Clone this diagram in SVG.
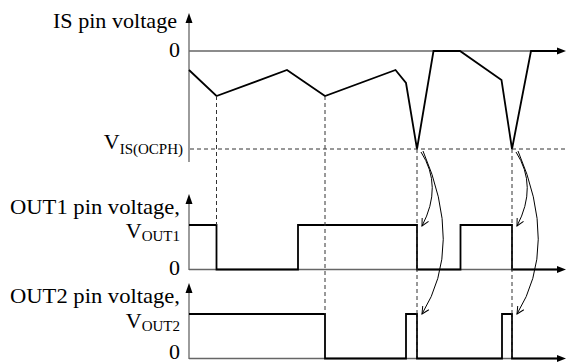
<svg xmlns="http://www.w3.org/2000/svg" width="566" height="363" viewBox="0 0 566 363">
  <defs>
    <style>
      .lbl { font-size: 22px; fill: #000; }
      .sub { font-size: 15px; }
      .axis { stroke: #666; stroke-width: 1.3; fill: none; }
      .wave { stroke: #000; stroke-width: 1.8; fill: none; stroke-linejoin: miter; }
      .dash { stroke: #333; stroke-width: 1; stroke-dasharray: 4 3; fill: none; }
      .curve { stroke: #000; stroke-width: 1; fill: none; }
      .head { fill: #000; stroke: none; }
    </style>
    <marker id="open" viewBox="0 0 10 10" refX="9" refY="5" markerWidth="9" markerHeight="9" orient="auto" markerUnits="userSpaceOnUse">
      <path d="M1,1 L9,5 L1,9" fill="none" stroke="#000" stroke-width="1.1"/>
    </marker>
  </defs>
  <rect width="566" height="363" fill="#fff"/>

  <g id="is-panel">
    <line class="axis" x1="189" y1="22" x2="189" y2="162"/>
    <line class="axis" x1="189" y1="51" x2="558" y2="51"/>
    <polygon class="head" points="189,13 185.5,23 192.5,23"/>
    <polygon class="head" points="566,51 557,47.5 557,54.5"/>
    <polyline class="wave" points="189,70 216.5,96 287,70 325,96 395.5,70 406,83 417,149 433.5,51 460,51 501.5,80 512,149 531,51 558,51"/>
    <text class="lbl" font-family="Liberation Serif" x="53" y="28" textLength="124" lengthAdjust="spacingAndGlyphs">IS pin voltage</text>
    <text class="lbl" font-family="Liberation Serif" x="180" y="57" text-anchor="end">0</text>
    <text class="lbl" font-family="Liberation Serif" x="183" y="149" text-anchor="end">V<tspan class="sub" dy="5">IS(OCPH)</tspan></text>
  </g>

  <g id="out1-panel">
    <line class="axis" x1="189" y1="202" x2="189" y2="270"/>
    <line class="axis" x1="189" y1="269.5" x2="558" y2="269.5"/>
    <polygon class="head" points="189,194 185.5,204 192.5,204"/>
    <polygon class="head" points="566,269.5 557,266 557,273"/>
    <polyline class="wave" points="189,225 216.5,225 216.5,269.5 298,269.5 298,225 417,225 417,269.5 460.5,269.5 460.5,225 512,225 512,269.5 558,269.5"/>
    <text class="lbl" font-family="Liberation Serif" x="10" y="214" textLength="170" lengthAdjust="spacingAndGlyphs">OUT1 pin voltage,</text>
    <text class="lbl" font-family="Liberation Serif" x="180" y="238" text-anchor="end">V<tspan class="sub" dy="3">OUT1</tspan></text>
    <text class="lbl" font-family="Liberation Serif" x="180" y="275" text-anchor="end">0</text>
  </g>

  <g id="out2-panel">
    <line class="axis" x1="189" y1="291" x2="189" y2="359"/>
    <line class="axis" x1="189" y1="358.5" x2="558" y2="358.5"/>
    <polygon class="head" points="189,283 185.5,293 192.5,293"/>
    <polygon class="head" points="566,358.5 557,355 557,362"/>
    <polyline class="wave" points="189,314 325,314 325,358.5 406,358.5 406,314 417,314 417,358.5 502,358.5 502,314 512,314 512,358.5 558,358.5"/>
    <text class="lbl" font-family="Liberation Serif" x="10" y="303" textLength="170" lengthAdjust="spacingAndGlyphs">OUT2 pin voltage,</text>
    <text class="lbl" font-family="Liberation Serif" x="180" y="328" text-anchor="end">V<tspan class="sub" dy="3">OUT2</tspan></text>
    <text class="lbl" font-family="Liberation Serif" x="180" y="359" text-anchor="end" font-size="20">0</text>
  </g>

  <g id="connectors">
    <line class="dash" x1="190" y1="149" x2="566" y2="149"/>
    <line class="dash" x1="216.5" y1="96" x2="216.5" y2="225"/>
    <line class="dash" x1="325" y1="96" x2="325" y2="314"/>
    <line class="dash" x1="417" y1="149" x2="417" y2="359"/>
    <line class="dash" x1="512" y1="149" x2="512" y2="359"/>
    <path class="curve" d="M421,152 Q443,186 422,226" marker-end="url(#open)"/>
    <path class="curve" d="M423,151 Q464,246 422,314" marker-end="url(#open)"/>
    <path class="curve" d="M516,152 Q538,186 517,226" marker-end="url(#open)"/>
    <path class="curve" d="M518,151 Q559,246 517,314" marker-end="url(#open)"/>
  </g>
</svg>
